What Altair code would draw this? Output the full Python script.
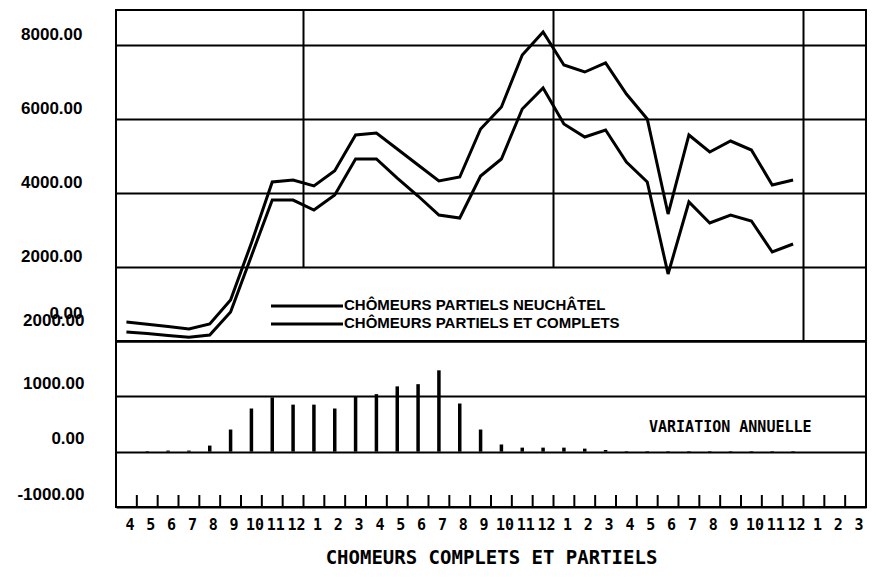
import json
import altair as alt
import pandas as pd

# ---- data ----
months = ["4", "5", "6", "7", "8", "9", "10", "11", "12",
          "1", "2", "3", "4", "5", "6", "7", "8", "9", "10", "11", "12",
          "1", "2", "3", "4", "5", "6", "7", "8", "9", "10", "11", "12",
          "1", "2", "3"]

partiels_et_complets = [514, 450, 390, 324, 460, 1108, 2650, 4297, 4350, 4190,
                        4600, 5568, 5622, 5190, 4757, 4324, 4432, 5730, 6324, 7730,
                        8351, 7460, 7270, 7514, 6676, 6000, 3432, 5568, 5108, 5405,
                        5162, 4216, 4351]
partiels_neuchatel = [243, 200, 150, 100, 160, 784, 2300, 3810, 3810, 3540,
                      3946, 4919, 4919, 4405, 3919, 3405, 3324, 4459, 4919, 6270,
                      6838, 5865, 5514, 5703, 4838, 4297, 1811, 3757, 3189, 3405,
                      3243, 2405, 2622]
variation = [0, 10, 20, 20, 110, 400, 780, 980, 850, 850,
             780, 1000, 1040, 1180, 1220, 1470, 870, 400, 130, 73,
             73, 73, 55, 30, 10, 10, 10, 10, 10, 10,
             10, 10, 10]

series_names = ["CHÔMEURS PARTIELS NEUCHÂTEL", "CHÔMEURS PARTIELS ET COMPLETS"]
top_ticks = [0, 2000, 4000, 6000, 8000]
bottom_ticks = [-1000, 0, 1000, 2000]
x_title = "CHOMEURS COMPLETS ET PARTIELS"
var_label = "VARIATION ANNUELLE"

# ---- tables ----
rows = []
for k, v in enumerate(partiels_neuchatel):
    rows.append({"k": k, "v": v, "s": series_names[0]})
for k, v in enumerate(partiels_et_complets):
    rows.append({"k": k, "v": v, "s": series_names[1]})
lines_df = pd.DataFrame(rows)
var_df = pd.DataFrame({"k": list(range(len(variation))), "v": variation})

# separators after each December
sep_x = [i + 0.5 for i, m in enumerate(months) if m == "12"]
sep_floor = [2000, 2000, 0]
sep_df = pd.DataFrame({"x": sep_x, "lo": sep_floor})
tick_df = pd.DataFrame({"t": [i + 0.5 for i in range(len(months) - 1)]})

TOP_MAX = 8946
xscale = alt.Scale(domain=[-0.5, len(months) - 0.5], nice=False, zero=False)
yscale_top = alt.Scale(domain=[0, TOP_MAX], nice=False, zero=False)
yscale_bot = alt.Scale(domain=[-1000, 2000], nice=False, zero=False)

label_expr = "(datum.value < 0 ? '-' : '') + format(abs(datum.value), '.2f')"


def yaxis(values, off_val, special_val, special_off, pad):
    return alt.Axis(values=values, labelExpr=label_expr, grid=True,
                    gridColor="black", gridWidth=2, gridOpacity=1,
                    domain=False, ticks=False, tickSize=0, labelPadding=pad,
                    labelFont="Liberation Sans", labelFontSize=17,
                    labelFontWeight="bold", labelColor="black",
                    labelOverlap=False, labelBaseline="middle",
                    labelOffset={"condition": {"test": f"datum.value == {special_val}",
                                               "value": special_off},
                                 "value": off_val},
                    title=None, minExtent=107, maxExtent=107)


ax_top = yaxis(top_ticks, -11, 0, -28, 34)
ax_bot = yaxis(bottom_ticks, -13, 2000, -21, 32)

x_axis = alt.Axis(values=list(range(len(months))),
                  labelExpr=json.dumps(months) + "[datum.value]",
                  grid=False, domain=False, ticks=False, tickSize=0,
                  labelPadding=10, labelOffset=3, labelOverlap=False,
                  labelFont="DejaVu Sans Mono", labelFontSize=15,
                  labelFontWeight="bold", labelColor="black",
                  title=x_title, titleFont="DejaVu Sans Mono",
                  titleFontSize=19, titleFontWeight="bold",
                  titleColor="black", titlePadding=16)

W = 750
H_TOP = 331
H_BOT = 166

# ---- top panel ----
lines = alt.Chart(lines_df).mark_line(color="black", strokeWidth=3).encode(
    x=alt.X("k:Q", scale=xscale, axis=None),
    y=alt.Y("v:Q", scale=yscale_top, axis=ax_top),
    detail="s:N",
)
seps = alt.Chart(sep_df).mark_rule(color="black", strokeWidth=2).encode(
    x=alt.X("x:Q", scale=xscale, axis=None),
    y=alt.Y("lo:Q", scale=yscale_top, axis=ax_top),
    y2=alt.datum(TOP_MAX),
)
legend_layers = []
for name, ypix in zip(series_names, [296, 314]):
    one = pd.DataFrame({"name": [name]})
    legend_layers.append(
        alt.Chart(one).mark_rule(color="black", strokeWidth=3).encode(
            x=alt.value(155), x2=alt.value(227), y=alt.value(ypix)))
    legend_layers.append(
        alt.Chart(one).mark_text(
            align="left", baseline="middle", font="Liberation Sans", fontSize=15,
            fontWeight="bold", color="black", dx=1, dy=-1
        ).encode(x=alt.value(227), y=alt.value(ypix), text="name:N"))

top = alt.layer(lines, seps, *legend_layers).properties(width=W, height=H_TOP)

# ---- bottom panel ----
bars = alt.Chart(var_df).mark_rule(color="black", strokeWidth=3.5).encode(
    x=alt.X("k:Q", scale=xscale, axis=x_axis),
    y=alt.Y("v:Q", scale=yscale_bot, axis=ax_bot),
    y2=alt.datum(0),
)
ticks = alt.Chart(tick_df).mark_rule(color="black", strokeWidth=2).encode(
    x=alt.X("t:Q", scale=xscale, axis=x_axis),
    y=alt.value(H_BOT), y2=alt.value(H_BOT - 12),
)
var_text = alt.Chart(pd.DataFrame({"t": [var_label]})).mark_text(
    align="left", baseline="middle", font="DejaVu Sans Mono", fontSize=15,
    fontWeight="bold", color="black"
).encode(x=alt.value(533), y=alt.value(86), text="t:N")

bottom = alt.layer(bars, ticks, var_text).properties(width=W, height=H_BOT)

chart = alt.vconcat(top, bottom, spacing=0, bounds="flush").properties(
    padding=0, background="white"
).configure_view(stroke="black", strokeWidth=2).configure_concat(spacing=0)

chart.save("out.html", embed_options={"renderer": "svg", "actions": False})
